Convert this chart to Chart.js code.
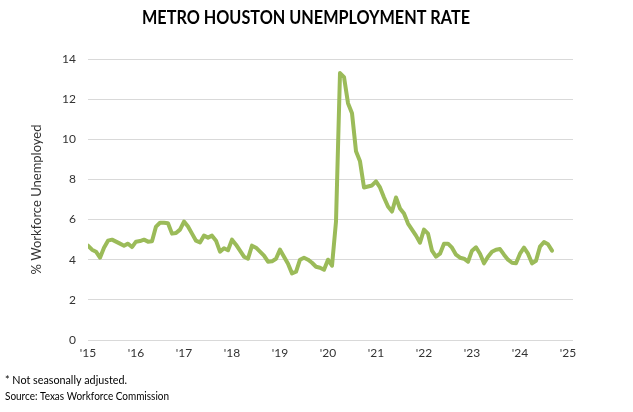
<!DOCTYPE html>
<html><head><meta charset="utf-8">
<script src="https://cdn.jsdelivr.net/npm/chart.js@4/dist/chart.umd.min.js"></script>
<style>
html,body{margin:0;padding:0;background:#fff;}
#wrap{position:relative;width:633px;height:412px;overflow:hidden;background:#fff;}
canvas{position:absolute;left:0;top:0;}
</style></head><body>
<div id="wrap">
<canvas id="c" width="633" height="412"></canvas>
</div>
<script>
// Monthly unemployment rate (%), not seasonally adjusted, Jan..Dec of each year
const rate2015 = [4.7, 4.5, 4.4, 4.1, 4.6, 4.95, 5.0, 4.9, 4.8, 4.7, 4.8, 4.63];
const rate2016 = [4.9, 4.93, 5.0, 4.9, 4.92, 5.65, 5.84, 5.84, 5.82, 5.3, 5.33, 5.5];
const rate2017 = [5.9, 5.65, 5.3, 4.95, 4.86, 5.2, 5.1, 5.2, 4.95, 4.4, 4.57, 4.47];
const rate2018 = [5.0, 4.75, 4.45, 4.15, 4.05, 4.7, 4.6, 4.4, 4.2, 3.9, 3.92, 4.05];
const rate2019 = [4.5, 4.15, 3.8, 3.32, 3.4, 4.0, 4.1, 4.0, 3.85, 3.65, 3.6, 3.5];
const rate2020 = [4.0, 3.7, 5.9, 13.3, 13.1, 11.8, 11.3, 9.4, 8.9, 7.6, 7.65, 7.7];
const rate2021 = [7.9, 7.6, 7.1, 6.65, 6.4, 7.1, 6.55, 6.3, 5.8, 5.5, 5.2, 4.85];
const rate2022 = [5.5, 5.3, 4.45, 4.15, 4.3, 4.8, 4.8, 4.6, 4.25, 4.1, 4.05, 3.9];
const rate2023 = [4.45, 4.62, 4.3, 3.82, 4.15, 4.4, 4.5, 4.53, 4.25, 4.0, 3.85, 3.82];
const rate2024 = [4.3, 4.6, 4.3, 3.82, 3.95, 4.65, 4.88, 4.77, 4.45];
const years = [2015, 2016, 2017, 2018, 2019, 2020, 2021, 2022, 2023, 2024];
const yearRates = [rate2015, rate2016, rate2017, rate2018, rate2019, rate2020, rate2021, rate2022, rate2023, rate2024];
const xTickLabels = ["'15", "'16", "'17", "'18", "'19", "'20", "'21", "'22", "'23", "'24", "'25"];
const yTicks = [0, 2, 4, 6, 8, 10, 12, 14];

const titleText = 'METRO HOUSTON UNEMPLOYMENT RATE';
const noteTexts = ['* Not seasonally adjusted.', 'Source: Texas Workforce Commission'];

const points = [];
yearRates.forEach((arr, yi) => arr.forEach((v, mi) => points.push({x: yi * 12 + mi, y: v})));

const FONT = 'Lato, "Open Sans", sans-serif';

// draws title and footnotes as canvas text, fitted to the reference widths
const textPlugin = {
  id: 'textPlugin',
  afterDraw(chart) {
    const ctx = chart.ctx;
    function fit(text, font, left, cy, targetW, color) {
      ctx.save();
      ctx.font = font;
      ctx.fillStyle = color;
      ctx.textBaseline = 'middle';
      ctx.textAlign = 'left';
      const w = ctx.measureText(text).width;
      ctx.translate(left, cy);
      ctx.scale(targetW / w, 1);
      ctx.fillText(text, 0, 0);
      ctx.restore();
    }
    fit(titleText, '700 19px ' + FONT, 142, 18, 328, '#000');
    fit(noteTexts[0], '400 11px ' + FONT, 5, 380, 122, '#000');
    fit(noteTexts[1], '400 11px ' + FONT, 5, 396, 164, '#000');
  }
};

new Chart(document.getElementById('c'), {
  type: 'line',
  data: { datasets: [{
    data: points,
    borderColor: '#9BBB59',
    borderWidth: 4,
    pointRadius: 0,
    tension: 0,
    borderJoinStyle: 'round',
    borderCapStyle: 'round',
    fill: false
  }]},
  plugins: [textPlugin],
  options: {
    responsive: false,
    animation: false,
    events: [],
    layout: { padding: { left: 29, top: 59, right: 60, bottom: 42 } },
    plugins: { legend: { display: false }, title: { display: false }, tooltip: { enabled: false } },
    scales: {
      x: {
        type: 'linear', min: 0, max: 121.25,
        afterBuildTicks: s => { s.ticks = xTickLabels.map((_, i) => ({ value: i * 12 })); },
        afterFit: s => { s.height = 30; },
        grid: { display: false, drawTicks: false },
        border: { display: false },
        ticks: { padding: 6, maxRotation: 0, autoSkip: false, color: '#333',
          font: { family: FONT, size: 12 },
          callback: v => xTickLabels[Math.round(v / 12)] }
      },
      y: {
        min: 0, max: 14,
        afterBuildTicks: s => { s.ticks = yTicks.map(v => ({ value: v })); },
        afterFit: s => { s.width = 59; },
        grid: { color: '#d9d9d9', lineWidth: 1, drawTicks: false },
        border: { display: false },
        ticks: { padding: 12, color: '#333', font: { family: FONT, size: 12 } },
        title: { display: true, text: '% Workforce Unemployed', color: '#333',
          font: { family: FONT, size: 13 }, padding: { top: 0, bottom: 0 } }
      }
    }
  }
});
</script>
</body></html>
